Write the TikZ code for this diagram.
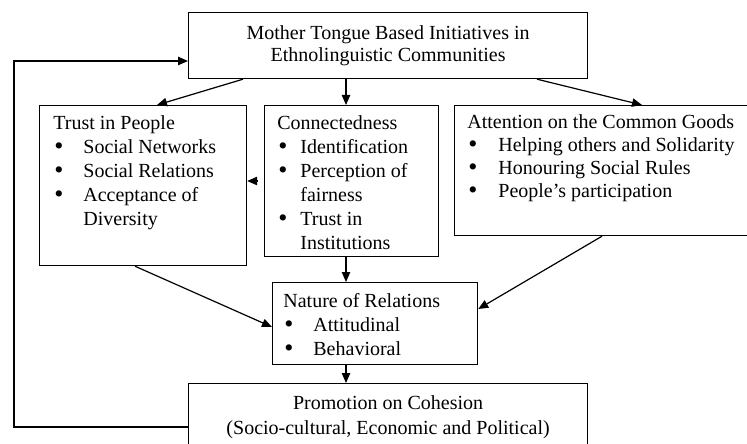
\documentclass[tikz,border=0pt]{standalone}
\usepackage{fontspec}
\setmainfont{Liberation Serif}
\usetikzlibrary{arrows.meta,calc}
\tikzset{
  boks/.style={draw,line width=0.6pt,inner sep=0pt,anchor=north west},
  tekst/.style={inner sep=0pt,anchor=north west,align=left,font=\fontsize{10}{12}\selectfont},
  pil/.style={line width=0.6pt,-{Triangle[length=5pt,width=4.2pt]}}
}
\newcommand{\pkt}[2][15pt]{\makebox[#1][l]{\hspace{0.5pt}\raisebox{-0.6pt}{\scalebox{1.3}{\textbullet}}}#2}

\begin{document}
\begin{tikzpicture}[x=0.5pt,y=-0.5pt]
  \clip (0,0) rectangle (747,443);
  %boksene
	\node[boks,minimum width=199.5pt,minimum height=33pt,align=center,font=\fontsize{10}{11}\selectfont] (mother) at (188,12) {Mother Tongue Based Initiatives in\\Ethnolinguistic Communities};
	\node[boks,minimum width=103.5pt,minimum height=80pt] (trust) at (39,105) {};
	\node[boks,minimum width=87pt,minimum height=75.5pt] (conn) at (264,105) {};
	\node[boks,minimum width=153pt,minimum height=65pt] (attn) at (454,105) {};
	\node[boks,minimum width=102.5pt,minimum height=41pt] (nature) at (272,282) {};
	\node[boks,minimum width=199.5pt,minimum height=34pt,align=center,font=\fontsize{10}{12.5}\selectfont] (promo) at (188,383) {Promotion on Cohesion\\(Socio-cultural, Economic and Political)};

  %tekst i boksene
	\node[tekst] (trusttxt) at ($(trust.north west)+(14,10)$) {Trust in People\\\pkt{Social Networks}\\\pkt{Social Relations}\\\pkt{Acceptance of}\\\hspace*{15pt}Diversity};
	\node[tekst] (conntxt) at ($(conn.north west)+(13,10)$) {Connectedness\\\pkt[11.5pt]{Identification}\\\pkt[11.5pt]{Perception of}\\\hspace*{11.5pt}fairness\\\pkt[11.5pt]{Trust in}\\\hspace*{11.5pt}Institutions};
	\node[tekst,font=\fontsize{10}{11.5}\selectfont] (attntxt) at ($(attn.north west)+(13,9)$) {Attention on the Common Goods\\\pkt[15.5pt]{Helping others and Solidarity}\\\pkt[15.5pt]{Honouring Social Rules}\\\pkt[15.5pt]{People’s participation}};
	\node[tekst] (naturetxt) at ($(nature.north west)+(11,11)$) {Nature of Relations\\\pkt{Attitudinal}\\\pkt{Behavioral}};

  %pile
	\draw[pil] ($(mother.south west)+(55,0)$) -- ($(trust.north west)+(118,0)$);
	\draw[pil] ($(mother.south west)+(158,0)$) -- ($(conn.north west)+(82,0)$);
	\draw[pil] ($(mother.south west)+(349,0)$) -- ($(attn.north west)+(188,0)$);
	\draw[pil] ($(trust.north east)+(10,76)$) -- ($(trust.north east)+(0,76)$);
	\draw[pil] ($(trust.south west)+(96,0)$) -- ($(nature.north west)+(0,45)$);
	\draw[pil] ($(conn.south west)+(82,0)$) -- ($(nature.north west)+(74,0)$);
	\draw[pil] ($(attn.south west)+(148,0)$) -- ($(nature.north east)+(0,27)$);
	\draw[pil] ($(nature.south west)+(74,0)$) -- ($(promo.north west)+(158,0)$);

  %tilbagekobling
	\coordinate (fbud) at ($(promo.north west)+(0,44)$);
	\coordinate (fbind) at ($(mother.north west)+(0,49)$);
	\coordinate (fbx) at (14,0);
	\draw[pil] (fbud) -- (fbud -| fbx) |- (fbind);
\end{tikzpicture}
\end{document}
